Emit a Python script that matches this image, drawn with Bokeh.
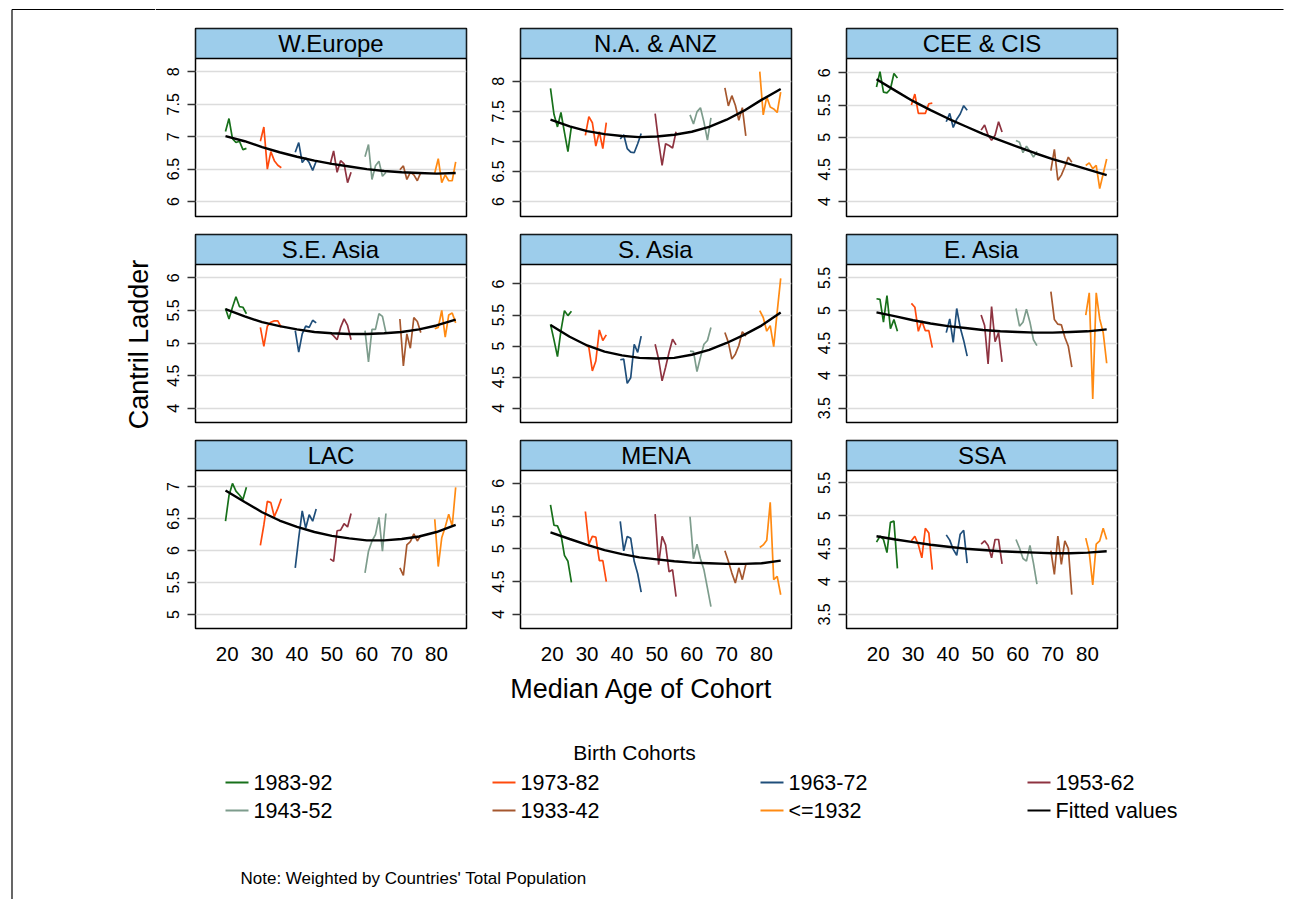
from math import pi
from bokeh.plotting import figure
from bokeh.layouts import row, column
from bokeh.models import FixedTicker, CustomJSTickFormatter, Range1d, Label
from bokeh.core.properties import value
from bokeh.embed import file_html
from bokeh.resources import INLINE

# ---------------- data ----------------
REGIONS = ["W.Europe", "N.A. & ANZ", "CEE & CIS",
           "S.E. Asia", "S. Asia", "E. Asia",
           "LAC", "MENA", "SSA"]
COHORTS = ["1983-92", "1973-82", "1963-72", "1953-62", "1943-52", "1933-42", "<=1932"]
COHORT_AGES = [
    [19.5, 20.5, 21.5, 22.5, 23.5, 24.5, 25.5],
    [29.5, 30.5, 31.5, 32.5, 33.5, 34.5, 35.5],
    [39.5, 40.5, 41.5, 42.5, 43.5, 44.5, 45.5],
    [49.5, 50.5, 51.5, 52.5, 53.5, 54.5, 55.5],
    [59.5, 60.5, 61.5, 62.5, 63.5, 64.5, 65.5],
    [69.5, 70.5, 71.5, 72.5, 73.5, 74.5, 75.5],
    [79.5, 80.5, 81.5, 82.5, 83.5, 84.5, 85.5],
]
FIT_AGES = [19.5, 25, 30, 35, 40, 45, 50, 55, 60, 65, 70, 75, 80, 85.5]

W_EUROPE = [
    [7.08, 7.28, 6.97, 6.91, 6.93, 6.80, 6.82],
    [6.93, 7.15, 6.50, 6.77, 6.63, 6.56, 6.52],
    [6.76, 6.91, 6.60, 6.67, 6.60, 6.48, 6.62],
    [6.57, 6.78, 6.45, 6.63, 6.58, 6.29, 6.45],
    [6.69, 6.88, 6.34, 6.55, 6.62, 6.39, 6.45],
    [6.49, 6.55, 6.34, 6.45, 6.41, 6.32, 6.45],
    [6.44, 6.66, 6.29, 6.41, 6.32, 6.32, 6.61],
]
W_EUROPE_FIT = [7.01, 6.93, 6.84, 6.76, 6.69, 6.63, 6.58, 6.54, 6.50, 6.47, 6.45, 6.44, 6.43, 6.44]

NA_ANZ = [
    [7.88, 7.45, 7.24, 7.48, 7.15, 6.83, 7.25],
    [7.10, 7.41, 7.31, 6.92, 7.16, 6.88, 7.31],
    [7.04, 7.11, 6.88, 6.82, 6.81, 6.96, 7.13],
    [7.46, 6.99, 6.60, 6.96, 6.93, 6.89, 7.16],
    [7.44, 7.29, 7.49, 7.56, 7.32, 7.02, 7.39],
    [7.89, 7.59, 7.76, 7.60, 7.35, 7.56, 7.09],
    [8.16, 7.44, 7.74, 7.57, 7.54, 7.48, 7.82],
]
NA_ANZ_FIT = [7.36, 7.25, 7.17, 7.12, 7.09, 7.07, 7.08, 7.11, 7.16, 7.24, 7.36, 7.51, 7.69, 7.87]

CEE_CIS = [
    [5.78, 6.02, 5.70, 5.69, 5.75, 5.99, 5.92],
    [5.50, 5.67, 5.37, 5.37, 5.37, 5.52, 5.53],
    [5.24, 5.37, 5.15, 5.28, 5.36, 5.49, 5.42],
    [5.11, 5.19, 5.03, 4.95, 5.03, 5.24, 5.08],
    [4.95, 4.92, 4.76, 4.86, 4.78, 4.69, 4.78],
    [4.48, 4.81, 4.33, 4.41, 4.54, 4.69, 4.61],
    [4.56, 4.60, 4.51, 4.56, 4.20, 4.43, 4.66],
]
CEE_CIS_FIT = [5.90, 5.72, 5.56, 5.42, 5.29, 5.17, 5.05, 4.95, 4.85, 4.75, 4.66, 4.58, 4.50, 4.41]

SE_ASIA = [
    [5.53, 5.37, 5.55, 5.71, 5.56, 5.55, 5.45],
    [5.24, 4.95, 5.26, 5.32, 5.34, 5.34, 5.24],
    [5.19, 4.86, 5.14, 5.26, 5.24, 5.35, 5.31],
    [5.16, 5.11, 5.05, 5.24, 5.37, 5.27, 5.05],
    [5.19, 4.71, 5.21, 5.21, 5.45, 5.41, 5.16],
    [5.37, 4.65, 5.14, 4.92, 5.39, 5.33, 5.16],
    [5.22, 5.24, 5.50, 5.09, 5.43, 5.46, 5.31],
]
SE_ASIA_FIT = [5.52, 5.41, 5.32, 5.26, 5.21, 5.17, 5.15, 5.14, 5.14, 5.15, 5.17, 5.21, 5.27, 5.36]

S_ASIA = [
    [5.35, 5.10, 4.83, 5.25, 5.57, 5.49, 5.56],
    [5.03, 4.98, 4.60, 4.76, 5.26, 5.09, 5.18],
    [4.78, 4.79, 4.40, 4.49, 5.03, 4.90, 5.16],
    [5.03, 4.79, 4.44, 4.66, 4.90, 5.11, 5.02],
    [4.92, 4.91, 4.59, 4.82, 5.03, 5.09, 5.30],
    [5.22, 5.06, 4.79, 4.87, 5.01, 5.23, 5.16],
    [5.57, 5.46, 5.24, 5.33, 4.99, 5.55, 6.09],
]
S_ASIA_FIT = [5.34, 5.15, 5.01, 4.91, 4.85, 4.81, 4.80, 4.81, 4.86, 4.94, 5.05, 5.18, 5.33, 5.54]

E_ASIA = [
    [5.18, 5.17, 4.82, 5.23, 4.72, 4.86, 4.68],
    [5.11, 5.05, 4.68, 4.84, 4.69, 4.69, 4.43],
    [4.66, 4.87, 4.51, 5.03, 4.74, 4.54, 4.30],
    [4.93, 4.77, 4.18, 5.06, 4.52, 4.66, 4.21],
    [5.03, 4.76, 4.82, 5.02, 4.82, 4.55, 4.46],
    [5.29, 4.86, 4.79, 4.78, 4.59, 4.45, 4.13],
    [4.93, 5.27, 3.64, 5.27, 4.87, 4.66, 4.19],
]
E_ASIA_FIT = [4.97, 4.91, 4.85, 4.80, 4.76, 4.73, 4.70, 4.68, 4.67, 4.66, 4.66, 4.67, 4.68, 4.71]

LAC = [
    [6.46, 6.86, 7.05, 6.93, 6.87, 6.80, 6.99],
    [6.08, 6.40, 6.77, 6.75, 6.53, 6.66, 6.81],
    [5.73, 6.20, 6.62, 6.35, 6.56, 6.46, 6.65],
    [5.87, 5.83, 6.31, 6.32, 6.42, 6.37, 6.58],
    [5.65, 5.99, 6.15, 6.25, 6.52, 5.99, 6.58],
    [5.73, 5.61, 6.09, 6.14, 6.26, 6.15, 6.24],
    [6.49, 5.75, 6.20, 6.37, 6.57, 6.38, 6.99],
]
LAC_FIT = [6.94, 6.76, 6.60, 6.47, 6.37, 6.29, 6.23, 6.19, 6.16, 6.16, 6.18, 6.22, 6.29, 6.40]

MENA = [
    [5.67, 5.36, 5.35, 5.22, 4.90, 4.81, 4.49],
    [5.57, 5.07, 5.19, 5.18, 4.82, 4.82, 4.50],
    [5.42, 4.97, 5.19, 5.16, 4.81, 4.62, 4.34],
    [5.53, 4.76, 5.19, 5.06, 4.65, 4.68, 4.27],
    [5.49, 4.85, 5.07, 4.85, 4.68, 4.40, 4.12],
    [4.97, 4.81, 4.63, 4.48, 4.71, 4.53, 4.76],
    [5.02, 5.06, 5.13, 5.71, 4.53, 4.58, 4.30],
]
MENA_FIT = [5.25, 5.15, 5.06, 4.98, 4.92, 4.87, 4.84, 4.81, 4.79, 4.78, 4.77, 4.77, 4.78, 4.82]

SSA = [
    [4.60, 4.69, 4.64, 4.44, 4.90, 4.92, 4.20],
    [4.62, 4.69, 4.56, 4.36, 4.81, 4.74, 4.18],
    [4.71, 4.63, 4.49, 4.40, 4.72, 4.78, 4.28],
    [4.57, 4.62, 4.55, 4.36, 4.64, 4.64, 4.27],
    [4.64, 4.51, 4.35, 4.31, 4.55, 4.28, 3.96],
    [4.47, 4.11, 4.69, 4.26, 4.62, 4.50, 3.80],
    [4.66, 4.44, 3.95, 4.57, 4.62, 4.81, 4.64],
]
SSA_FIT = [4.69, 4.64, 4.60, 4.56, 4.53, 4.50, 4.48, 4.46, 4.45, 4.44, 4.43, 4.43, 4.44, 4.46]

SERIES = [W_EUROPE, NA_ANZ, CEE_CIS, SE_ASIA, S_ASIA, E_ASIA, LAC, MENA, SSA]
FITS = [W_EUROPE_FIT, NA_ANZ_FIT, CEE_CIS_FIT, SE_ASIA_FIT, S_ASIA_FIT, E_ASIA_FIT,
        LAC_FIT, MENA_FIT, SSA_FIT]

Y_TICKS = [
    [6, 6.5, 7, 7.5, 8], [6, 6.5, 7, 7.5, 8], [4, 4.5, 5, 5.5, 6],
    [4, 4.5, 5, 5.5, 6], [4, 4.5, 5, 5.5, 6], [3.5, 4, 4.5, 5, 5.5],
    [5, 5.5, 6, 6.5, 7], [4, 4.5, 5, 5.5, 6], [3.5, 4, 4.5, 5, 5.5],
]
X_TICKS = [20, 30, 40, 50, 60, 70, 80]

# ---------------- axis limits & style ----------------
Y_LIMITS = [(5.768, 8.207), (5.75, 8.378), (3.766, 6.224),
            (3.78, 6.206), (3.77, 6.313), (3.28, 5.706),
            (4.78, 7.253), (3.785, 6.195), (3.285, 5.69)]
X_LO, X_HI = 10.9, 88.6

COLORS = ["#17701A", "#FF4A0D", "#1F4E7A", "#8E3340", "#7D9C8C", "#A5572E", "#FF8A12"]
FIT_COLOR = "black"
STRIP_FILL = "#9DCDEB"
FONT = "Liberation Sans"
PLOT_PX = 158
STRIP_PX = 30
FRAME_H = PLOT_PX + STRIP_PX
COL_W = [325, 326, 325]
FRAME_W = 271
MB_LEFT = 40


def make_panel(idx, col):
    lo, hi = Y_LIMITS[idx]
    top = hi + (hi - lo) * STRIP_PX / PLOT_PX
    bottom_row = idx >= 6
    mb_bottom = 45 if bottom_row else 17
    p = figure(width=COL_W[col], height=1 + FRAME_H + mb_bottom,
               x_range=Range1d(X_LO, X_HI), y_range=Range1d(lo, top),
               output_backend="svg", toolbar_location=None,
               x_axis_location="below" if bottom_row else None,
               min_border_left=MB_LEFT, min_border_right=COL_W[col] - MB_LEFT - FRAME_W,
               min_border_top=1, min_border_bottom=mb_bottom)
    p.background_fill_color = "white"
    p.border_fill_color = "white"
    p.outline_line_color = "black"
    p.outline_line_width = 1.5

    # strip header
    p.quad(left=[X_LO], right=[X_HI], bottom=[hi], top=[top],
           fill_color=STRIP_FILL, line_color="black", line_width=1.5)
    p.text(x=[(X_LO + X_HI) / 2], y=[(hi + top) / 2], text=[REGIONS[idx]],
           text_font=value(FONT), text_font_size="24px", text_color="black",
           text_align="center", text_baseline="middle")

    for ages, vals, c in zip(COHORT_AGES, SERIES[idx], COLORS):
        p.line(ages, vals, line_color=c, line_width=1.7)
    p.line(FIT_AGES, FITS[idx], line_color=FIT_COLOR, line_width=2.4)

    yt = FixedTicker(ticks=Y_TICKS[idx])
    p.yaxis.ticker = yt
    p.yaxis.formatter = CustomJSTickFormatter(code="return tick.toString();")
    p.yaxis.major_label_orientation = "vertical"
    p.yaxis.axis_line_color = None
    p.yaxis.major_tick_line_color = "#333333"
    p.yaxis.major_tick_line_width = 1.3
    p.yaxis.major_tick_out = 8
    p.yaxis.major_tick_in = 0
    p.yaxis.minor_tick_line_color = None
    p.yaxis.major_label_standoff = 8
    p.yaxis.major_label_text_font = FONT
    p.yaxis.major_label_text_font_size = "16px"
    p.yaxis.major_label_text_color = "black"

    p.ygrid.ticker = yt
    p.ygrid.grid_line_color = "#DCDCDC"
    p.ygrid.grid_line_width = 1.6
    p.xgrid.visible = False

    if bottom_row:
        p.xaxis.ticker = FixedTicker(ticks=X_TICKS)
        p.xaxis.axis_line_color = None
        p.xaxis.major_tick_line_color = None
        p.xaxis.minor_tick_line_color = None
        p.xaxis.major_tick_out = 0
        p.xaxis.major_tick_in = 0
        p.xaxis.major_label_standoff = 18
        p.xaxis.major_label_text_font = FONT
        p.xaxis.major_label_text_font_size = "20.5px"
        p.xaxis.major_label_text_color = "black"
    return p


def blank(width, height):
    p = figure(width=width, height=height, x_range=Range1d(0, width), y_range=Range1d(0, height),
               output_backend="svg", toolbar_location=None,
               x_axis_location=None, y_axis_location=None,
               min_border_left=0, min_border_right=0, min_border_top=0, min_border_bottom=0)
    p.outline_line_color = None
    p.xgrid.visible = False
    p.ygrid.visible = False
    p.background_fill_color = "white"
    p.border_fill_color = "white"
    return p


# left column: outer border + y title
LEFT_W, TOTAL_H = 155, 899
BORDER_X, BORDER_Y = 11.5, TOTAL_H - 9
left = blank(LEFT_W, TOTAL_H)
left.segment(x0=[BORDER_X, BORDER_X], y0=[0, BORDER_Y], x1=[BORDER_X, LEFT_W], y1=[BORDER_Y, BORDER_Y],
             line_color="black", line_width=1.2)
left.add_layout(Label(x=138, y=555, text="Cantril Ladder", angle=pi / 2,
                      text_align="center", text_baseline="middle",
                      text_font=FONT, text_font_size="27px", text_color="black"))

RIGHT_W = 1130
top_strip = blank(RIGHT_W, 27)
top_strip.segment(x0=[0], y0=[18], x1=[RIGHT_W - 2], y1=[18], line_color="black", line_width=1.2)

grid_rows = []
for r in range(3):
    grid_rows.append(row([make_panel(r * 3 + c, c) for c in range(3)]))

# footer: x title, legend, note
footer = blank(RIGHT_W, 226)
footer.add_layout(Label(x=486, y=211, text="Median Age of Cohort", text_align="center",
                        text_baseline="middle", text_font=FONT, text_font_size="27px",
                        text_color="black"))
footer.add_layout(Label(x=479, y=147, text="Birth Cohorts", text_align="center",
                        text_baseline="middle", text_font=FONT, text_font_size="21px",
                        text_color="black"))
footer.add_layout(Label(x=85, y=21, text="Note: Weighted by Countries' Total Population",
                        text_align="left", text_baseline="middle", text_font=FONT,
                        text_font_size="17px", text_color="black"))

# legend (4 columns x 2 rows)
LEG_NAMES = COHORTS + ["Fitted values"]
LEG_COLORS = COLORS + [FIT_COLOR]
LEG_COL_X = [70, 337, 605, 872]
LEG_ROW_Y = [117, 89]
KEY_W = 23
key_left, key_right, key_bot, key_top = [], [], [], []
for k in range(len(LEG_NAMES)):
    lx = LEG_COL_X[k % 4]
    ly = LEG_ROW_Y[k // 4]
    key_left.append(lx)
    key_right.append(lx + KEY_W)
    key_bot.append(ly - 1)
    key_top.append(ly + 1)
footer.quad(left=key_left, right=key_right, bottom=key_bot, top=key_top,
            fill_color=LEG_COLORS, line_color=None)
for k, name in enumerate(LEG_NAMES):
    footer.add_layout(Label(x=LEG_COL_X[k % 4] + KEY_W + 5, y=LEG_ROW_Y[k // 4], text=name,
                            text_align="left", text_baseline="middle", text_font=FONT,
                            text_font_size="21.5px", text_color="black"))

right = column([top_strip] + grid_rows + [footer])
layout = row(left, right)

open("out.html", "w").write(file_html(layout, INLINE, "Cantril Ladder by cohort"))
